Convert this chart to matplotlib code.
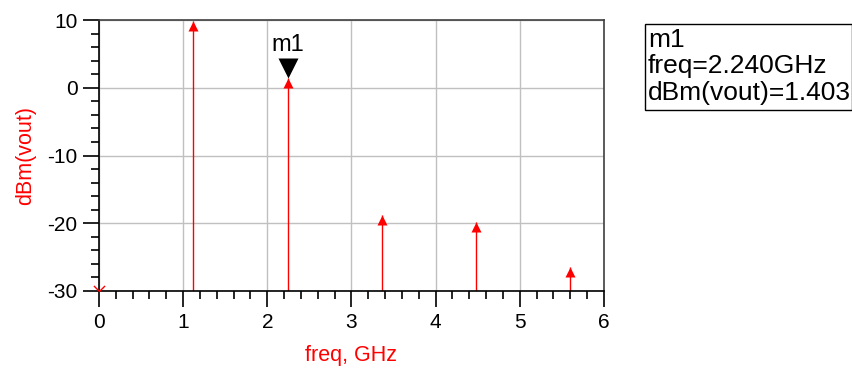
import matplotlib.pyplot as plt
from matplotlib.path import Path
from matplotlib.patches import Rectangle
from matplotlib.ticker import MultipleLocator

plt.rcParams['font.family'] = ['Liberation Sans', 'DejaVu Sans']
plt.rcParams['axes.unicode_minus'] = False

# harmonic spectrum of vout
freq_ghz = [1.12, 2.24, 3.36, 4.48, 5.60]
dbm_vout = [9.9, 1.403, -18.8, -19.8, -26.5]
dc_freq = 0.0
dc_dbm = -30.0

marker_name = "m1"
marker_freq = 2.24
marker_val = 1.403

fig = plt.figure(figsize=(8.53, 3.75), dpi=100)
ax = fig.add_axes([99 / 853, 1 - 291 / 375, 505 / 853, 271 / 375])

ymin, ymax = -30, 10
ax.set_xlim(0, 6)
ax.set_ylim(ymin, ymax)

# stems + arrow heads
ax.vlines(freq_ghz, ymin, dbm_vout, color="red", lw=1)
up_tri = Path([(0, 0), (-0.5, -1), (0.5, -1), (0, 0)],
              [Path.MOVETO, Path.LINETO, Path.LINETO, Path.CLOSEPOLY])
ax.plot(freq_ghz, dbm_vout, ls="none", marker=up_tri, ms=14.4,
        color="red", mew=0, clip_on=False, zorder=5)

# DC point sits on the floor
vee = Path([(-1, 1), (0, 0), (1, 1)], [Path.MOVETO, Path.LINETO, Path.LINETO])
ax.plot([dc_freq], [dc_dbm], ls="none", marker=vee, ms=8, mfc="none",
        mec="red", mew=1, clip_on=False, zorder=5)

# marker m1
down_tri = Path([(-0.5, 1), (0.5, 1), (0, 0), (-0.5, 1)],
                [Path.MOVETO, Path.LINETO, Path.LINETO, Path.CLOSEPOLY])
ax.plot([marker_freq], [marker_val], ls="none", marker=down_tri, ms=28.8,
        color="black", mew=0, clip_on=False, zorder=6)
ax.annotate(marker_name, (marker_freq, marker_val), xytext=(0, 22),
            textcoords="offset pixels", ha="center", va="bottom",
            fontsize=17, color="black")

# grid / ticks
ax.xaxis.set_major_locator(MultipleLocator(1))
ax.xaxis.set_minor_locator(MultipleLocator(0.2))
ax.yaxis.set_major_locator(MultipleLocator(10))
ax.yaxis.set_minor_locator(MultipleLocator(2))
ax.grid(True, which="major", color="#c0c0c0", lw=1)
ax.set_axisbelow(True)
ax.tick_params(which="major", direction="out", length=11.5, width=1.2,
               labelsize=15, pad=4)
ax.tick_params(which="minor", direction="out", length=5.5, width=1.2)
for s in ax.spines.values():
    s.set_linewidth(1.2)
ax.spines["top"].set_color("#404040")
ax.spines["right"].set_color("#404040")

ax.set_xlabel("freq, GHz", color="red", fontsize=15.5, labelpad=10)
ax.set_ylabel("dBm(vout)", color="red", fontsize=15.5, labelpad=8)

# marker readout box
fig.patches.append(Rectangle((645 / 853, 1 - 110 / 375), 207 / 853, 86 / 375,
                             transform=fig.transFigure, fill=False,
                             edgecolor="black", lw=1))
readout = [marker_name,
           "freq=%.3fGHz" % marker_freq,
           "dBm(vout)=%.3f" % marker_val]
for i, line in enumerate(readout):
    fig.text(648 / 853, 1 - (40 + 26.5 * i) / 375, line, fontsize=19,
             va="center", ha="left")

fig.savefig("out.png", dpi=100)
